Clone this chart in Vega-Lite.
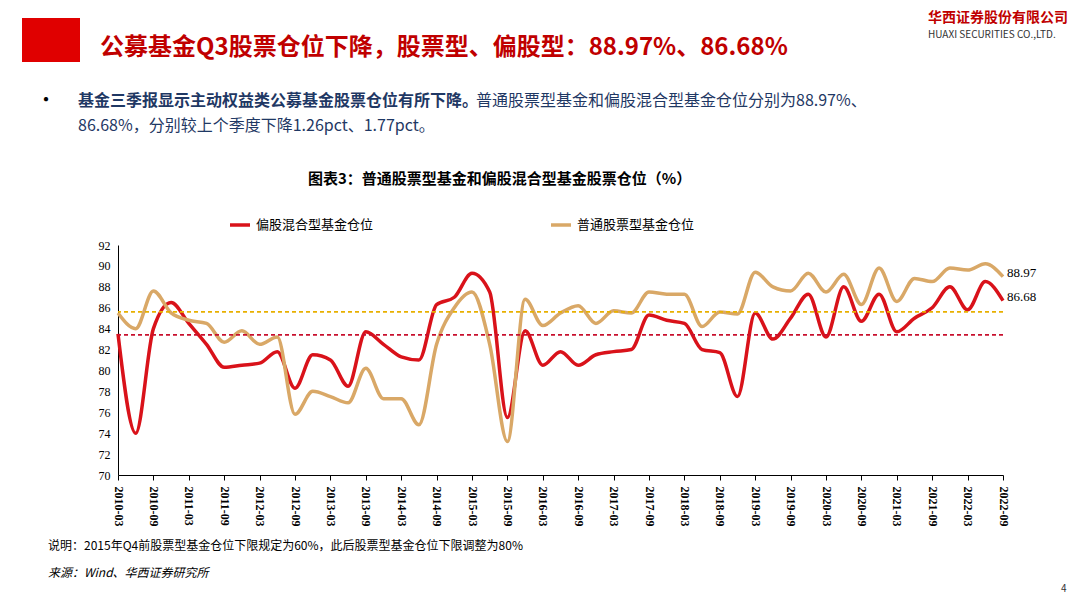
{
"$schema":"https://vega.github.io/schema/vega-lite/v6.json",
"width":885,"height":230,"autosize":"none",
"padding":{"left":118,"top":245,"right":77,"bottom":130},
"background":"white",
"config":{"font":"Noto Sans CJK SC","view":{"stroke":null},
 "axisY":{"title":null,"labelOverlap":false,"labelSeparation":0,"grid":false,"labelFont":"Liberation Serif","labelFontSize":12,"labelColor":"#000","domainColor":"#000","ticks":false,"labelPadding":8},
 "axisX":{"title":null,"labelAngle":90,"labelFont":"Liberation Serif","labelFontSize":12,"labelFontWeight":"bold","labelColor":"#000","domainColor":"#000","tickColor":"#000","labelPadding":6}},
"datasets":{"d":[
{"q":"2010-03","s":"偏股混合型基金仓位","v":83.5},{"q":"2010-06","s":"偏股混合型基金仓位","v":74},{"q":"2010-09","s":"偏股混合型基金仓位","v":84},{"q":"2010-12","s":"偏股混合型基金仓位","v":86.5},
{"q":"2011-03","s":"偏股混合型基金仓位","v":84.5},{"q":"2011-06","s":"偏股混合型基金仓位","v":82.5},{"q":"2011-09","s":"偏股混合型基金仓位","v":80.3},{"q":"2011-12","s":"偏股混合型基金仓位","v":80.5},
{"q":"2012-03","s":"偏股混合型基金仓位","v":80.7},{"q":"2012-06","s":"偏股混合型基金仓位","v":81.8},{"q":"2012-09","s":"偏股混合型基金仓位","v":78.3},{"q":"2012-12","s":"偏股混合型基金仓位","v":81.5},
{"q":"2013-03","s":"偏股混合型基金仓位","v":81},{"q":"2013-06","s":"偏股混合型基金仓位","v":78.5},{"q":"2013-09","s":"偏股混合型基金仓位","v":83.7},{"q":"2013-12","s":"偏股混合型基金仓位","v":82.5},
{"q":"2014-03","s":"偏股混合型基金仓位","v":81.3},{"q":"2014-06","s":"偏股混合型基金仓位","v":81},{"q":"2014-09","s":"偏股混合型基金仓位","v":86.3},{"q":"2014-12","s":"偏股混合型基金仓位","v":87},
{"q":"2015-03","s":"偏股混合型基金仓位","v":89.3},{"q":"2015-06","s":"偏股混合型基金仓位","v":87.5},{"q":"2015-09","s":"偏股混合型基金仓位","v":75.5},{"q":"2015-12","s":"偏股混合型基金仓位","v":83.8},
{"q":"2016-03","s":"偏股混合型基金仓位","v":80.5},{"q":"2016-06","s":"偏股混合型基金仓位","v":81.8},{"q":"2016-09","s":"偏股混合型基金仓位","v":80.5},{"q":"2016-12","s":"偏股混合型基金仓位","v":81.5},
{"q":"2017-03","s":"偏股混合型基金仓位","v":81.8},{"q":"2017-06","s":"偏股混合型基金仓位","v":82},{"q":"2017-09","s":"偏股混合型基金仓位","v":85.3},{"q":"2017-12","s":"偏股混合型基金仓位","v":84.8},
{"q":"2018-03","s":"偏股混合型基金仓位","v":84.5},{"q":"2018-06","s":"偏股混合型基金仓位","v":82},{"q":"2018-09","s":"偏股混合型基金仓位","v":81.7},{"q":"2018-12","s":"偏股混合型基金仓位","v":77.5},
{"q":"2019-03","s":"偏股混合型基金仓位","v":85.5},{"q":"2019-06","s":"偏股混合型基金仓位","v":83},{"q":"2019-09","s":"偏股混合型基金仓位","v":85},{"q":"2019-12","s":"偏股混合型基金仓位","v":87.3},
{"q":"2020-03","s":"偏股混合型基金仓位","v":83.2},{"q":"2020-06","s":"偏股混合型基金仓位","v":88},{"q":"2020-09","s":"偏股混合型基金仓位","v":84.7},{"q":"2020-12","s":"偏股混合型基金仓位","v":87.3},
{"q":"2021-03","s":"偏股混合型基金仓位","v":83.7},{"q":"2021-06","s":"偏股混合型基金仓位","v":85},{"q":"2021-09","s":"偏股混合型基金仓位","v":86},{"q":"2021-12","s":"偏股混合型基金仓位","v":88},
{"q":"2022-03","s":"偏股混合型基金仓位","v":85.8},{"q":"2022-06","s":"偏股混合型基金仓位","v":88.5},{"q":"2022-09","s":"偏股混合型基金仓位","v":86.68},
{"q":"2010-03","s":"普通股票型基金仓位","v":85.5},{"q":"2010-06","s":"普通股票型基金仓位","v":84},{"q":"2010-09","s":"普通股票型基金仓位","v":87.6},{"q":"2010-12","s":"普通股票型基金仓位","v":85.5},
{"q":"2011-03","s":"普通股票型基金仓位","v":84.8},{"q":"2011-06","s":"普通股票型基金仓位","v":84.5},{"q":"2011-09","s":"普通股票型基金仓位","v":82.7},{"q":"2011-12","s":"普通股票型基金仓位","v":83.8},
{"q":"2012-03","s":"普通股票型基金仓位","v":82.5},{"q":"2012-06","s":"普通股票型基金仓位","v":83.2},{"q":"2012-09","s":"普通股票型基金仓位","v":75.8},{"q":"2012-12","s":"普通股票型基金仓位","v":78},
{"q":"2013-03","s":"普通股票型基金仓位","v":77.5},{"q":"2013-06","s":"普通股票型基金仓位","v":76.9},{"q":"2013-09","s":"普通股票型基金仓位","v":80.2},{"q":"2013-12","s":"普通股票型基金仓位","v":77.3},
{"q":"2014-03","s":"普通股票型基金仓位","v":77.3},{"q":"2014-06","s":"普通股票型基金仓位","v":74.8},{"q":"2014-09","s":"普通股票型基金仓位","v":82.5},{"q":"2014-12","s":"普通股票型基金仓位","v":86},
{"q":"2015-03","s":"普通股票型基金仓位","v":87.5},{"q":"2015-06","s":"普通股票型基金仓位","v":82.5},{"q":"2015-09","s":"普通股票型基金仓位","v":73.2},{"q":"2015-12","s":"普通股票型基金仓位","v":86.8},
{"q":"2016-03","s":"普通股票型基金仓位","v":84.3},{"q":"2016-06","s":"普通股票型基金仓位","v":85.5},{"q":"2016-09","s":"普通股票型基金仓位","v":86.2},{"q":"2016-12","s":"普通股票型基金仓位","v":84.5},
{"q":"2017-03","s":"普通股票型基金仓位","v":85.7},{"q":"2017-06","s":"普通股票型基金仓位","v":85.5},{"q":"2017-09","s":"普通股票型基金仓位","v":87.5},{"q":"2017-12","s":"普通股票型基金仓位","v":87.3},
{"q":"2018-03","s":"普通股票型基金仓位","v":87.3},{"q":"2018-06","s":"普通股票型基金仓位","v":84.2},{"q":"2018-09","s":"普通股票型基金仓位","v":85.6},{"q":"2018-12","s":"普通股票型基金仓位","v":85.4},
{"q":"2019-03","s":"普通股票型基金仓位","v":89.4},{"q":"2019-06","s":"普通股票型基金仓位","v":88},{"q":"2019-09","s":"普通股票型基金仓位","v":87.6},{"q":"2019-12","s":"普通股票型基金仓位","v":89.3},
{"q":"2020-03","s":"普通股票型基金仓位","v":87.5},{"q":"2020-06","s":"普通股票型基金仓位","v":89.2},{"q":"2020-09","s":"普通股票型基金仓位","v":86.3},{"q":"2020-12","s":"普通股票型基金仓位","v":89.8},
{"q":"2021-03","s":"普通股票型基金仓位","v":86.6},{"q":"2021-06","s":"普通股票型基金仓位","v":88.8},{"q":"2021-09","s":"普通股票型基金仓位","v":88.5},{"q":"2021-12","s":"普通股票型基金仓位","v":89.8},
{"q":"2022-03","s":"普通股票型基金仓位","v":89.6},{"q":"2022-06","s":"普通股票型基金仓位","v":90.2},{"q":"2022-09","s":"普通股票型基金仓位","v":88.97}
]},
"layer":[
{"data":{"name":"d"},
 "mark":{"type":"line","interpolate":"monotone","strokeWidth":3.5},
 "encoding":{
  "x":{"field":"q","type":"ordinal","scale":{"type":"point","padding":0},"axis":{"values":["2010-03","2010-09","2011-03","2011-09","2012-03","2012-09","2013-03","2013-09","2014-03","2014-09","2015-03","2015-09","2016-03","2016-09","2017-03","2017-09","2018-03","2018-09","2019-03","2019-09","2020-03","2020-09","2021-03","2021-09","2022-03","2022-09"]}},
  "y":{"field":"v","type":"quantitative","scale":{"domain":[70,92]},"axis":{"values":[70,72,74,76,78,80,82,84,86,88,90,92],"labelOverlap":false,"labelSeparation":0}},
  "color":{"field":"s","type":"nominal","sort":["偏股混合型基金仓位","普通股票型基金仓位"],"scale":{"range":["#d9121a","#d9a867"]},
   "legend":{"title":null,"orient":"none","legendX":110,"legendY":-32,"direction":"horizontal","columnPadding":170,"symbolType":"stroke","symbolStrokeWidth":3.5,"symbolSize":400,"labelFontSize":13,"labelColor":"#000"}}}},
{"data":{"values":[{"v":83.4,"c":"#c8102e"},{"v":85.6,"c":"#e8b000"}]},
 "mark":{"type":"rule","strokeDash":[4,3],"strokeWidth":1.8},
 "encoding":{"y":{"field":"v","type":"quantitative","axis":{"values":[70,72,74,76,78,80,82,84,86,88,90,92],"labelOverlap":false,"labelSeparation":0}},"color":{"field":"c","type":"nominal","scale":null}}},
{"data":{"name":"d"},"transform":[{"filter":"datum.q=='2022-09'"}],
 "mark":{"type":"text","align":"left","dx":4,"dy":-4,"font":"Liberation Serif","fontSize":13},
 "encoding":{"x":{"field":"q","type":"ordinal","axis":{"values":["2010-03","2010-09","2011-03","2011-09","2012-03","2012-09","2013-03","2013-09","2014-03","2014-09","2015-03","2015-09","2016-03","2016-09","2017-03","2017-09","2018-03","2018-09","2019-03","2019-09","2020-03","2020-09","2021-03","2021-09","2022-03","2022-09"]}},"y":{"field":"v","type":"quantitative","axis":{"values":[70,72,74,76,78,80,82,84,86,88,90,92],"labelOverlap":false,"labelSeparation":0}},"text":{"field":"v","type":"quantitative","format":".2f"}}},
{"data":{"values":[{}]},"mark":{"type":"rect","x":-96,"x2":-38,"y":-227,"y2":-183,"color":"#e00000"},"encoding":{}},
{"data":{"values":[{}]},"mark":{"type":"rule","x":-38,"x2":947,"y":-177,"color":"#c00000","strokeWidth":1.2},"encoding":{}},
{"data":{"values":[{}]},"mark":{"type":"rule","x":-110,"x2":930,"y":-47,"color":"#888","strokeWidth":1},"encoding":{}},
{"data":{"values":[{"t":"公募基金Q3股票仓位下降，股票型、偏股型：88.97%、86.68%"}]},
 "mark":{"type":"text","x":-18,"y":-197,"align":"left","fontSize":24,"fontWeight":"bold","color":"#c00000"},"encoding":{"text":{"field":"t"}}},
{"data":{"values":[{"t":"•"}]},
 "mark":{"type":"text","x":-82,"y":-144,"align":"left","fontSize":20,"color":"#000"},"encoding":{"text":{"field":"t"}}},
{"data":{"values":[{"t":"基金三季报显示主动权益类公募基金股票仓位有所下降。"}]},
 "mark":{"type":"text","x":-40,"y":-144,"align":"left","fontSize":16,"fontWeight":"bold","color":"#1f3864"},"encoding":{"text":{"field":"t"}}},
{"data":{"values":[{"t":"普通股票型基金和偏股混合型基金仓位分别为88.97%、"}]},
 "mark":{"type":"text","x":358,"y":-144,"align":"left","fontSize":16,"color":"#1f3864"},"encoding":{"text":{"field":"t"}}},
{"data":{"values":[{"t":"86.68%，分别较上个季度下降1.26pct、1.77pct。"}]},
 "mark":{"type":"text","x":-40,"y":-119,"align":"left","fontSize":16,"color":"#1f3864"},"encoding":{"text":{"field":"t"}}},
{"data":{"values":[{"t":"图表3：普通股票型基金和偏股混合型基金股票仓位（%）"}]},
 "mark":{"type":"text","x":190,"y":-66,"align":"left","fontSize":15,"fontWeight":"bold","color":"#000"},"encoding":{"text":{"field":"t"}}},
{"data":{"values":[{"t":"说明：2015年Q4前股票型基金仓位下限规定为60%，此后股票型基金仓位下限调整为80%"}]},
 "mark":{"type":"text","x":-70,"y":301,"align":"left","fontSize":12,"color":"#000"},"encoding":{"text":{"field":"t"}}},
{"data":{"values":[{"t":"来源：Wind、华西证券研究所"}]},
 "mark":{"type":"text","x":-70,"y":328,"align":"left","fontSize":12,"fontStyle":"italic","color":"#000"},"encoding":{"text":{"field":"t"}}},
{"data":{"values":[{"t":"华西证券股份有限公司"}]},
 "mark":{"type":"text","x":810,"y":-227,"align":"left","fontSize":14,"fontWeight":"bold","color":"#c00000"},"encoding":{"text":{"field":"t"}}},
{"data":{"values":[{"t":"HUAXI SECURITIES CO.,LTD."}]},
 "mark":{"type":"text","x":810,"y":-210,"align":"left","fontSize":10,"color":"#333"},"encoding":{"text":{"field":"t"}}},
{"data":{"values":[{"t":"4"}]},
 "mark":{"type":"text","x":943,"y":344,"align":"left","fontSize":10,"color":"#333"},"encoding":{"text":{"field":"t"}}}
]
}
